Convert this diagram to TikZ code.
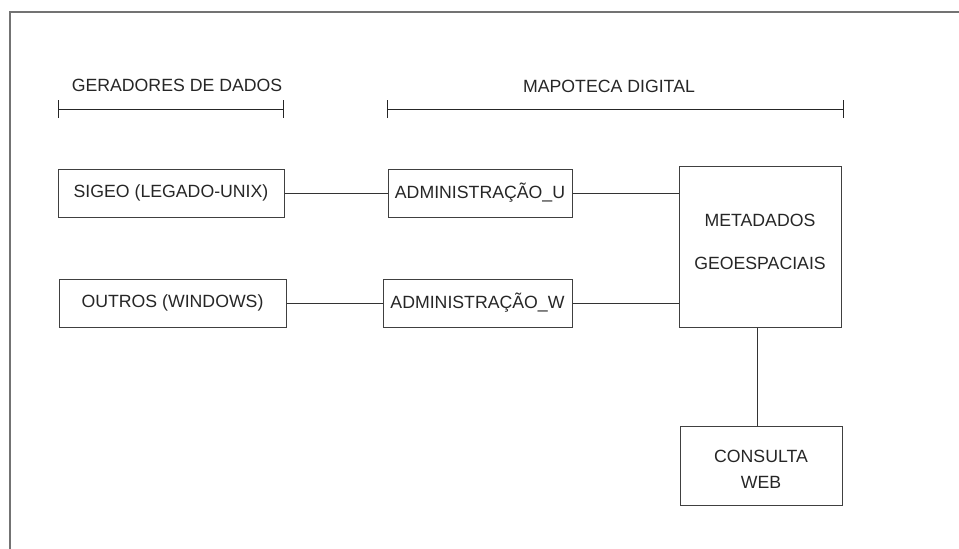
\documentclass[tikz,border=0pt]{standalone}
\usepackage{fontspec}
\setmainfont{Liberation Sans}
\usetikzlibrary{arrows.meta}
\begin{document}
\begin{tikzpicture}[x=1pt,y=-1pt,
  caixa/.style={draw=black!75, line width=1pt, inner sep=0pt, align=center,
    text=black!85, font=\fontsize{17.7}{21}\selectfont},
  ligacao/.style={draw=black!80, line width=1pt},
  faixa/.style={draw=black!85, line width=1pt,
    {Bar[width=18pt,line width=1pt]}-{Bar[width=18pt,line width=1pt]}},
  rotulo/.style={font=\fontsize{17.7}{21}\selectfont, text=black!85}]
  \useasboundingbox (0,0) rectangle (959,549);
  % moldura
  \draw[black!55, line width=1.5pt] (959,12) -- (10,12) -- (10,549);
  % faixas do topo
  \coordinate (gerA) at (58,109);
  \coordinate (gerB) at (284,109);
  \coordinate (mapA) at (387,109);
  \coordinate (mapB) at (844,109);
  \draw[faixa] (gerA) -- (gerB);
  \draw[faixa] (mapA) -- (mapB);
  \node[rotulo] (geradores) at (177,85) {GERADORES DE DADOS};
  \node[rotulo] (mapoteca) at (609,86) {MAPOTECA DIGITAL};
  % caixas
  \node[caixa, minimum width=226, minimum height=48] (sigeo) at (171,193) {SIGEO (LEGADO-UNIX)};
  \node[caixa, minimum width=227, minimum height=48] (outros) at (172.5,303) {OUTROS (WINDOWS)};
  \node[caixa, minimum width=184, minimum height=48] (admu) at (480,193) {ADMINISTRAÇÃO\_U};
  \node[caixa, minimum width=189, minimum height=48] (admw) at (477.5,303) {ADMINISTRAÇÃO\_W};
  \node[caixa, minimum width=162, minimum height=161, text depth=10pt] (meta) at (760,246.5) {METADADOS\\[22pt]GEOESPACIAIS};
  \node[caixa, minimum width=162, minimum height=79] (consulta) at (761,465.5) {\rule{0pt}{19pt}CONSULTA\\[5pt]WEB};
  % ligacoes
  \draw[ligacao] (sigeo.east) -- (admu.west);
  \draw[ligacao] (outros.east) -- (admw.west);
  \draw[ligacao] (admu.east) -- (admu.east -| meta.west);
  \draw[ligacao] (admw.east) -- (admw.east -| meta.west);
  \draw[ligacao] (meta.south -| 757,0) -- (consulta.north -| 757,0);
\end{tikzpicture}
\end{document}
